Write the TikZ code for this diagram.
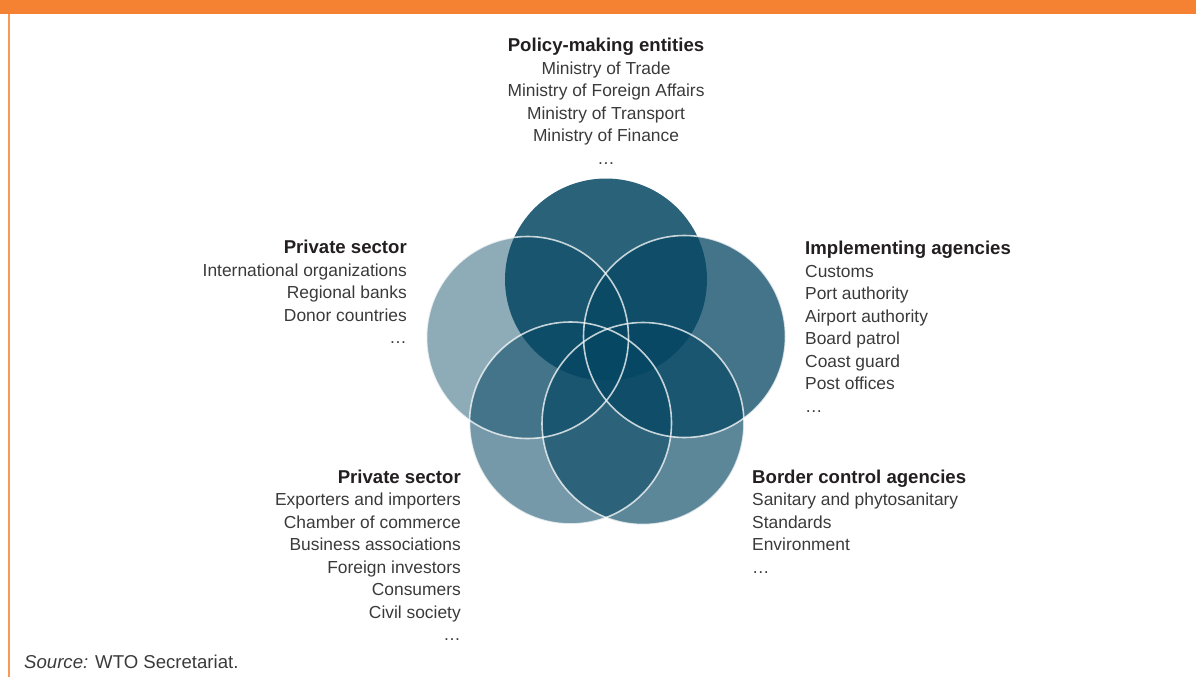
\documentclass[tikz,border=0pt]{standalone}
\usepackage{fontspec}
\setmainfont{Liberation Sans}
\definecolor{wtoorange}{HTML}{F58233}
\definecolor{wtoline}{HTML}{F79A55}
\definecolor{vennblue}{RGB}{5,70,98}
\definecolor{bodygrey}{HTML}{3A3A3A}
\definecolor{headblack}{HTML}{231F20}
\newcommand{\headfont}{\fontsize{18.6}{22.5}\selectfont\bfseries\color{headblack}}
\tikzset{
  block/.style={inner sep=0pt, text=bodygrey, font=\fontsize{17.4}{22.5}\selectfont},
  venn/.style={fill=vennblue, fill opacity=#1},
  rim/.style={draw=white, draw opacity=0.75, line width=1.6pt}
}
\begin{document}
\begin{tikzpicture}[x=1pt, y=-1pt]
  \useasboundingbox (0, 0) rectangle (1196, 677);
  % frame
  \fill[wtoorange] (0, 0) rectangle (1196, 14);
  \fill[wtoline] (8, 14) rectangle (10, 677);
  % circle centres
  \coordinate (ctop) at (606, 279.5);
  \coordinate (cleft) at (527.5, 337.5);
  \coordinate (cright) at (684.5, 336.5);
  \coordinate (cbotl) at (570.5, 423);
  \coordinate (cbotr) at (643, 423.5);
  % fills
  \fill[venn=0.45] (cleft) circle[radius=101pt];
  \fill[venn=0.55] (cbotl) circle[radius=101pt];
  \fill[venn=0.65] (cbotr) circle[radius=101pt];
  \fill[venn=0.75] (cright) circle[radius=101pt];
  \fill[venn=0.85] (ctop) circle[radius=101pt];
  % white rims
  \draw[rim] (cleft) circle[radius=101pt];
  \draw[rim] (cright) circle[radius=101pt];
  \draw[rim] (cbotl) circle[radius=101pt];
  \draw[rim] (cbotr) circle[radius=101pt];
  % labels (base = baseline of the last line)
  \node[block, align=center, anchor=base] (policy) at (606, 164.2)
    {{\headfont Policy-making entities}\\Ministry of Trade\\Ministry of Foreign Affairs\\Ministry of Transport\\Ministry of Finance\\…};
  \node[block, align=right, anchor=base east] (donors) at (407, 343.5)
    {{\headfont Private sector}\\International organizations\\Regional banks\hspace{5pt}\\Donor countries\\…};
  \node[block, align=left, anchor=base west] (implement) at (805, 412)
    {{\headfont Implementing agencies}\\Customs\\Port authority\\Airport authority\\Board patrol\\Coast guard\\Post offices\\…};
  \node[block, align=right, anchor=base east] (business) at (461, 640.8)
    {{\headfont Private sector}\\Exporters and importers\hspace{5pt}\\Chamber of commerce\\Business associations\\Foreign investors\\Consumers\\Civil society\\…};
  \node[block, align=left, anchor=base west] (border) at (752, 573.3)
    {{\headfont Border control agencies}\\Sanitary and phytosanitary\\Standards\\Environment\\…};
  \node[block, anchor=base west, font=\fontsize{18.6}{22}\selectfont] (source) at (24, 668)
    {\textit{Source:} WTO Secretariat.};
\end{tikzpicture}
\end{document}
